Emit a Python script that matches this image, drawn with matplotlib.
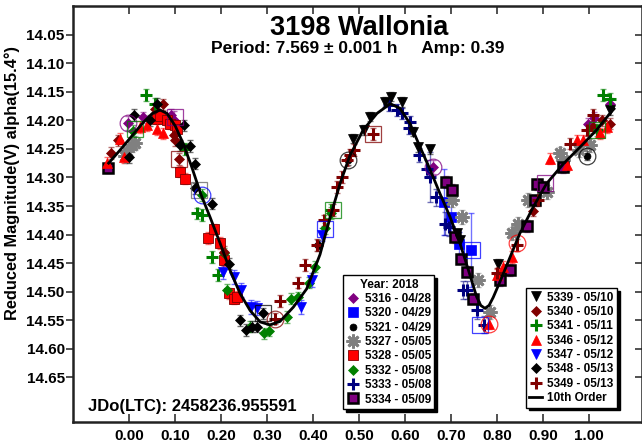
import numpy as np
import matplotlib.pyplot as plt
from matplotlib.lines import Line2D

plt.rcParams['font.family'] = ['Liberation Sans', 'DejaVu Sans']
plt.rcParams['font.weight'] = 'bold'

# --- session data (phase, reduced magnitude, error) ---
s5316_phase = [-0.002, 0.030, 0.090, 0.097, 0.661, 0.999, 1.012, 1.046]
s5316_mag = [14.205, 14.195, 14.190, 14.199, 14.282, 14.206, 14.196, 14.171]
s5316_err = [0.012, 0.01, 0.01, 0.015, 0.012, 0.01, 0.01, 0.01]

s5320_phase = [0.684, 0.700, 0.717, 0.744]
s5320_mag = [14.343, 14.370, 14.416, 14.427]
s5320_err = [0.058, 0.030, 0.020, 0.064]

s5321_phase = [0.477, 0.996]
s5321_mag = [14.270, 14.262]
s5321_err = [0.008, 0.008]

s5327_phase = [-0.010, -0.005, 0.005, 0.012, 0.702, 0.724, 0.760, 0.785, 0.832,
               0.847, 0.868, 0.909, 0.938, 0.945, 0.978, 1.003]
s5327_mag = [14.262, 14.253, 14.244, 14.240, 14.340, 14.369, 14.480, 14.535, 14.398,
             14.381, 14.340, 14.326, 14.258, 14.270, 14.252, 14.244]
s5327_err = [0.012] * 16

s5328_phase = [0.060, 0.067, 0.081, 0.089, 0.099, 0.103, 0.110, 0.121, 0.172,
               0.184, 0.197, 0.207, 0.217, 0.227, 0.234]
s5328_mag = [14.197, 14.193, 14.200, 14.206, 14.209, 14.216, 14.290, 14.302, 14.406,
             14.391, 14.415, 14.445, 14.503, 14.512, 14.509]
s5328_err = [0.01] * 15

s5332_phase = [0.008, 0.158, 0.205, 0.212, 0.263, 0.293, 0.305, 0.343, 0.352,
               0.368, 0.390, 0.404, 0.426, 0.440]
s5332_mag = [14.218, 14.331, 14.433, 14.497, 14.561, 14.573, 14.568, 14.544, 14.512,
             14.510, 14.484, 14.456, 14.389, 14.362]
s5332_err = [0.01] * 14

s5333_phase = [0.566, 0.582, 0.593, 0.608, 0.611, 0.631, 0.647, 0.655, 0.668,
               0.687, 0.695, 0.726, 0.735, 0.756, 0.771]
s5333_mag = [14.174, 14.182, 14.188, 14.214, 14.203, 14.261, 14.285, 14.299, 14.335,
             14.381, 14.387, 14.497, 14.497, 14.532, 14.558]
s5333_err = [0.01, 0.01, 0.01, 0.01, 0.01, 0.012, 0.015, 0.044, 0.015,
             0.02, 0.015, 0.015, 0.015, 0.015, 0.015]

s5334_phase = [-0.047, 0.689, 0.702, 0.709, 0.723, 0.734, 0.749, 0.807, 0.828,
               0.865, 0.883, 0.887, 0.901, 0.945]
s5334_mag = [14.283, 14.308, 14.322, 14.404, 14.442, 14.465, 14.512, 14.480, 14.462,
             14.385, 14.340, 14.312, 14.317, 14.282]
s5334_err = [0.01] * 14

s5339_phase = [0.486, 0.510, 0.523, 0.557, 0.570, 0.593, 0.618, 0.629, 0.655,
               0.713, 0.720, 0.803, 1.046]
s5339_mag = [14.232, 14.217, 14.194, 14.168, 14.159, 14.168, 14.220, 14.247, 14.251,
             14.398, 14.410, 14.451, 14.182]
s5339_err = [0.008] * 13

s5340_phase = [-0.040, -0.025, 0.055, 0.074, 0.098, 0.099, 0.108, 0.205, 0.878,
               1.010, 1.028, 1.046]
s5340_mag = [14.257, 14.235, 14.180, 14.172, 14.226, 14.235, 14.268, 14.430, 14.358,
             14.212, 14.200, 14.206]
s5340_err = [0.01] * 12

s5341_phase = [0.036, 0.055, 0.121, 0.147, 0.158, 0.181, 0.194, 0.440, 1.017,
               1.032, 1.046]
s5341_mag = [14.156, 14.171, 14.250, 14.363, 14.366, 14.439, 14.471, 14.357, 14.217,
             14.156, 14.162]
s5341_err = [0.01] * 11

s5346_phase = [-0.048, -0.020, -0.011, 0.023, 0.039, 0.060, 0.073, 0.782, 0.800,
               0.814, 0.832, 0.916, 0.952, 0.974, 0.988, 1.025, 1.039]
s5346_mag = [14.275, 14.232, 14.265, 14.212, 14.209, 14.215, 14.223, 14.556, 14.470,
             14.457, 14.439, 14.267, 14.279, 14.235, 14.235, 14.223, 14.212]
s5346_err = [0.01] * 17

s5347_phase = [0.204, 0.227, 0.243, 0.264, 0.277, 0.373, 0.397, 0.420]
s5347_mag = [14.465, 14.474, 14.497, 14.527, 14.529, 14.527, 14.480, 14.400]
s5347_err = [0.012] * 8

s5348_phase = [0.000, 0.010, 0.044, 0.060, 0.110, 0.118, 0.132, 0.143, 0.143,
               0.181, 0.218, 0.241, 0.253, 0.266, 0.277, 0.290, 0.410]
s5348_mag = [14.264, 14.191, 14.200, 14.171, 14.244, 14.209, 14.245, 14.276, 14.319,
             14.346, 14.451, 14.550, 14.567, 14.561, 14.561, 14.538, 14.419]
s5348_err = [0.01] * 17

s5349_phase = [0.317, 0.328, 0.368, 0.382, 0.408, 0.423, 0.444, 0.451, 0.462,
               0.473, 0.480, 0.488, 0.530, 0.800, 0.843, 0.890, 0.959, 0.996, 1.010]
s5349_mag = [14.547, 14.516, 14.484, 14.453, 14.418, 14.375, 14.357, 14.317, 14.299,
             14.270, 14.260, 14.252, 14.224, 14.468, 14.418, 14.340, 14.241, 14.217, 14.191]
s5349_err = [0.01] * 19

# open highlight symbols
hl_phase = [-0.002, 0.012, 0.099, 0.108, 0.152, 0.158, 0.290, 0.317, 0.425, 0.444,
            0.477, 0.530, 0.661, 0.745, 0.763, 0.782, 0.843, 0.996, 1.017, 0.905]
hl_mag = [14.205, 14.215, 14.195, 14.268, 14.322, 14.331, 14.538, 14.547, 14.390, 14.357,
          14.270, 14.224, 14.282, 14.427, 14.558, 14.556, 14.415, 14.262, 14.217, 14.310]
hl_shape = ['o', 's', 's', 's', 's', 'o', 's', 'o', 's', 's',
            'o', 's', 'o', 's', 's', 'o', 'o', 'o', 's', 's']
hl_color = ['#800080', '#008000', '#800080', '#800000', '#606060', '#0000ff', '#000000',
            '#800000', '#0000ff', '#008000', '#000000', '#800000', '#800080', '#0000ff',
            '#0000ff', '#ff0000', '#ff0000', '#000000', '#008000', '#800080']

# 10th order fit
fit_phase = [-0.045, -0.020, 0.005, 0.030, 0.050, 0.067, 0.082, 0.100, 0.118, 0.136,
             0.155, 0.176, 0.198, 0.219, 0.241, 0.263, 0.285, 0.306, 0.328, 0.357,
             0.386, 0.415, 0.437, 0.459, 0.480, 0.509, 0.539, 0.568, 0.589, 0.611,
             0.633, 0.655, 0.676, 0.698, 0.720, 0.738, 0.756, 0.765, 0.774, 0.783,
             0.792, 0.807, 0.829, 0.850, 0.879, 0.908, 0.945, 0.981, 1.017, 1.046, 1.055]
fit_mag = [14.275, 14.252, 14.228, 14.204, 14.188, 14.182, 14.188, 14.210, 14.242, 14.282,
           14.328, 14.370, 14.416, 14.462, 14.503, 14.533, 14.553, 14.558, 14.552, 14.527,
           14.495, 14.435, 14.370, 14.310, 14.262, 14.217, 14.188, 14.171, 14.179, 14.206,
           14.247, 14.287, 14.328, 14.369, 14.416, 14.462, 14.509, 14.524, 14.529, 14.524,
           14.510, 14.482, 14.439, 14.398, 14.352, 14.311, 14.276, 14.247, 14.217, 14.188, 14.180]

x_ticks = [0.0, 0.1, 0.2, 0.3, 0.4, 0.5, 0.6, 0.7, 0.8, 0.9, 1.0]
y_ticks = [14.05, 14.10, 14.15, 14.20, 14.25, 14.30, 14.35, 14.40, 14.45, 14.50,
           14.55, 14.60, 14.65]

# label, data, marker, face, edge, size, mew
sessions = [
    ('5316 - 04/28', s5316_phase, s5316_mag, s5316_err, 'D', '#800080', '#800080', 5, 0.5),
    ('5320 - 04/29', s5320_phase, s5320_mag, s5320_err, 's', '#0000ff', '#0000ff', 7, 0.5),
    ('5321 - 04/29', s5321_phase, s5321_mag, s5321_err, 'o', '#000000', '#000000', 5, 0.5),
    ('5327 - 05/05', s5327_phase, s5327_mag, s5327_err, (8, 2, 0), '#808080', '#808080', 10, 2.0),
    ('5328 - 05/05', s5328_phase, s5328_mag, s5328_err, 's', '#ff0000', '#800000', 7, 0.6),
    ('5332 - 05/08', s5332_phase, s5332_mag, s5332_err, 'D', '#008000', '#008000', 5, 0.5),
    ('5333 - 05/08', s5333_phase, s5333_mag, s5333_err, 'P', '#000080', '#000080', 0, 0),
    ('5334 - 05/09', s5334_phase, s5334_mag, s5334_err, 's', '#800080', '#000000', 7.5, 1.8),
    ('5339 - 05/10', s5339_phase, s5339_mag, s5339_err, 'v', '#000000', '#000000', 6.5, 0.5),
    ('5340 - 05/10', s5340_phase, s5340_mag, s5340_err, 'D', '#800000', '#800000', 5, 0.5),
    ('5341 - 05/11', s5341_phase, s5341_mag, s5341_err, 'P', '#008000', '#008000', 0, 0),
    ('5346 - 05/12', s5346_phase, s5346_mag, s5346_err, '^', '#ff0000', '#ff0000', 6.5, 0.5),
    ('5347 - 05/12', s5347_phase, s5347_mag, s5347_err, 'v', '#0000ff', '#0000ff', 6.5, 0.5),
    ('5348 - 05/13', s5348_phase, s5348_mag, s5348_err, 'D', '#000000', '#000000', 5, 0.5),
    ('5349 - 05/13', s5349_phase, s5349_mag, s5349_err, 'P', '#800000', '#800000', 0, 0),
]

fig = plt.figure(figsize=(6.42, 4.44), dpi=100)
ax = fig.add_axes([73 / 642, 22 / 444, 569 / 642, 416 / 444])

handles = []
for label, ph, mg, er, mk, fc, ec, ms, mew in sessions:
    ax.errorbar(ph, mg, yerr=er, fmt='none', ecolor=fc, alpha=0.55, elinewidth=1,
                capsize=2.5, zorder=2)
    if mk == 'P':
        # thick plus symbol
        ax.plot(ph, mg, linestyle='None', marker='+', ms=9, mew=2.2, color=fc, zorder=3)
        h = Line2D([], [], linestyle='None', marker='+', ms=9, mew=2.2, color=fc)
    else:
        ax.plot(ph, mg, linestyle='None', marker=mk, ms=ms, mfc=fc, mec=ec, mew=mew, zorder=3)
        h = Line2D([], [], linestyle='None', marker=mk, ms=ms, mfc=fc, mec=ec, mew=mew)
    handles.append((h, label))

for p, m, s, c in zip(hl_phase, hl_mag, hl_shape, hl_color):
    ax.plot(p, m, linestyle='None', marker=s, ms=11 if s == 's' else 12, mfc='none',
            mec=c, mew=0.9, alpha=0.75, zorder=3)

ax.plot(fit_phase, fit_mag, color='black', lw=2, zorder=4)

ax.set_xlim(-0.1226, 1.1159)
ax.set_ylim(14.728, 14.0)
ax.set_xticks(x_ticks)
ax.set_xticklabels([f'{v:.2f}' for v in x_ticks])
ax.set_yticks(y_ticks)
ax.set_yticklabels([f'{v:.2f}' for v in y_ticks])
ax.tick_params(axis='x', direction='in', top=True, bottom=True, length=6, width=1.2,
               labelsize=11, pad=5, color='#333333')
ax.tick_params(axis='y', direction='out', left=True, right=False, length=5, width=1.2,
               labelsize=11, pad=1, color='#333333')
sec = ax.secondary_yaxis('right')
sec.set_yticks(y_ticks)
sec.tick_params(direction='in', length=5, width=1.2, labelright=False, color='#333333')
sec.spines['right'].set_visible(False)
for sp in ax.spines.values():
    sp.set_linewidth(1.8)
    sp.set_color('#222222')

ax.set_ylabel('Reduced Magnitude(V) alpha(15.4°)', fontsize=11.8, fontweight='bold')
ax.yaxis.set_label_coords(-0.093, 0.575)

fig.text(0.559, 0.9216, '3198 Wallonia', ha='center', va='baseline', fontsize=19.5,
         fontweight='bold')
fig.text(0.557, 0.881, 'Period: 7.569 ± 0.001 h     Amp: 0.39', ha='center', va='baseline',
         fontsize=12.5, fontweight='bold')
ax.text(0.026, 0.026, 'JDo(LTC): 2458236.955591', transform=ax.transAxes, ha='left',
        va='baseline', fontsize=12, fontweight='bold')

leg_kw = dict(fontsize=8.5, frameon=True, fancybox=False, edgecolor='black',
              shadow={'color': 'black', 'alpha': 1}, framealpha=1, borderpad=0.3,
              handlelength=1.1, handletextpad=0.4, labelspacing=0.2, borderaxespad=0)
leg1 = ax.legend([h for h, _ in handles[:8]], [l for _, l in handles[:8]],
                 loc='upper left', bbox_to_anchor=(0.475, 0.353), title='Year: 2018',
                 title_fontproperties={'weight': 'bold', 'size': 8.5}, **leg_kw)
leg1.get_frame().set_linewidth(1)
ax.add_artist(leg1)
fit_handle = Line2D([], [], color='black', lw=2)
leg2 = ax.legend([h for h, _ in handles[8:]] + [fit_handle],
                 [l for _, l in handles[8:]] + ['10th Order'],
                 loc='upper left', bbox_to_anchor=(0.796, 0.322), **leg_kw)
leg2.get_frame().set_linewidth(1)

fig.savefig('out.png', dpi=100)
